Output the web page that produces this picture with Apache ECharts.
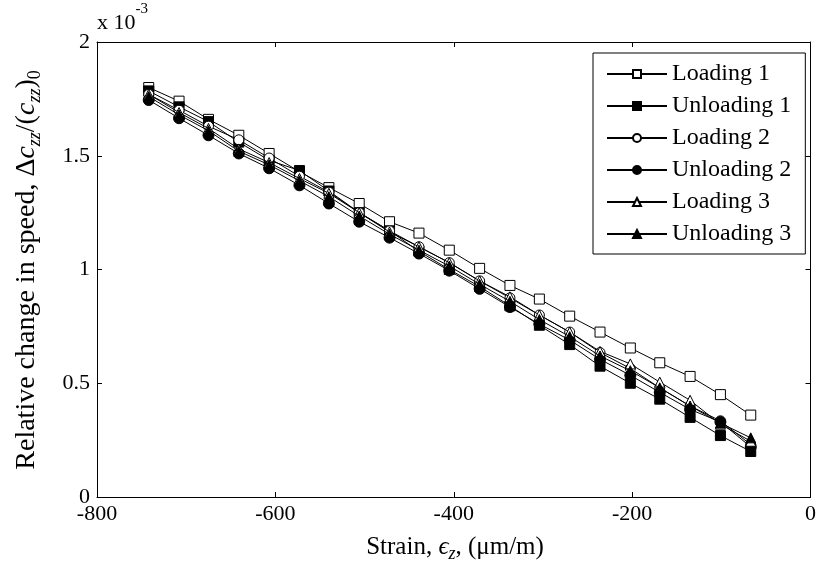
<!DOCTYPE html>
<html>
<head>
<meta charset="utf-8">
<script src="https://cdn.jsdelivr.net/npm/echarts@6/dist/echarts.min.js"></script>
<style>html,body{margin:0;padding:0;background:#fff}#c{width:819px;height:564px}</style>
</head>
<body>
<div id="c"></div>
<script>
// Strain values (µm/m)
var strain = [-742, -708, -675, -641, -607, -573, -540, -506, -472, -439, -405, -371, -337, -304, -270, -236, -202, -169, -135, -101, -67];
// Relative change in speed, in units of 1e-3
var loading1   = [1.80, 1.74, 1.66, 1.59, 1.51, 1.43, 1.36, 1.29, 1.21, 1.16, 1.085, 1.005, 0.93, 0.87, 0.795, 0.725, 0.655, 0.59, 0.53, 0.45, 0.36];
var unloading1 = [1.785, 1.715, 1.65, 1.56, 1.48, 1.435, 1.345, 1.25, 1.17, 1.08, 1.00, 0.925, 0.84, 0.755, 0.67, 0.575, 0.50, 0.43, 0.35, 0.27, 0.20];
var loading2   = [1.77, 1.70, 1.63, 1.57, 1.49, 1.41, 1.34, 1.25, 1.17, 1.10, 1.03, 0.95, 0.875, 0.80, 0.725, 0.635, 0.565, 0.48, 0.40, 0.335, 0.23];
var unloading2 = [1.745, 1.665, 1.59, 1.51, 1.445, 1.37, 1.29, 1.21, 1.14, 1.07, 0.995, 0.915, 0.835, 0.76, 0.69, 0.605, 0.535, 0.46, 0.385, 0.33, 0.22];
var loading3   = [1.77, 1.69, 1.62, 1.53, 1.47, 1.40, 1.335, 1.25, 1.165, 1.10, 1.03, 0.95, 0.88, 0.80, 0.725, 0.64, 0.585, 0.505, 0.425, 0.32, 0.245];
var unloading3 = [1.76, 1.68, 1.61, 1.52, 1.46, 1.39, 1.32, 1.235, 1.155, 1.085, 1.015, 0.935, 0.86, 0.78, 0.705, 0.62, 0.555, 0.48, 0.40, 0.325, 0.26];
var seriesNames = ['Loading 1', 'Unloading 1', 'Loading 2', 'Unloading 2', 'Loading 3', 'Unloading 3'];
var xTicks = [-800, -600, -400, -200, 0];
var yTicks = [0, 0.5, 1, 1.5, 2];

var FONT = '"Liberation Serif", "Times New Roman", serif';
function pairs(ys){ return strain.map(function(x,i){ return [x, ys[i]]; }); }

var styles = [
  {data: loading1,   symbol: 'rect',     size: 10, fill: '#fff'},
  {data: unloading1, symbol: 'rect',     size: 10, fill: '#000'},
  {data: loading2,   symbol: 'circle',   size: 10, fill: '#fff'},
  {data: unloading2, symbol: 'circle',   size: 11, fill: '#000'},
  {data: loading3,   symbol: 'triangle', size: 10, fill: '#fff'},
  {data: unloading3, symbol: 'triangle', size: 10, fill: '#000'}
];

var series = styles.map(function(s, k){
  return {
    name: seriesNames[k], type: 'line', data: pairs(s.data),
    xAxisIndex: 0, yAxisIndex: 0,
    symbol: s.symbol, symbolSize: s.size, showSymbol: true,
    lineStyle: {color: '#000', width: 1},
    itemStyle: {color: s.fill, borderColor: '#000', borderWidth: 1},
    emphasis: {disabled: true}, animation: false, z: 2 + k
  };
});

var axisCommon = {
  type: 'value', splitLine: {show: false},
  axisLine: {show: true, onZero: false, lineStyle: {color: '#000', width: 1}},
  axisTick: {show: true, inside: true, length: 5, lineStyle: {color: '#000'}}
};

var chart = echarts.init(document.getElementById('c'));
chart.setOption({
  backgroundColor: '#fff',
  animation: false,
  grid: {left: 97, top: 42, width: 714, height: 455},
  xAxis: [
    Object.assign({}, axisCommon, {position: 'bottom', min: xTicks[0], max: xTicks[xTicks.length-1], interval: 200,
      axisLabel: {color: '#000', fontFamily: FONT, fontSize: 22, margin: 6}}),
    Object.assign({}, axisCommon, {position: 'top', min: xTicks[0], max: xTicks[xTicks.length-1], interval: 200,
      axisLabel: {show: false}})
  ],
  yAxis: [
    Object.assign({}, axisCommon, {position: 'left', min: yTicks[0], max: yTicks[yTicks.length-1], interval: 0.5,
      axisLabel: {color: '#000', fontFamily: FONT, fontSize: 22, margin: 7}}),
    Object.assign({}, axisCommon, {position: 'right', min: yTicks[0], max: yTicks[yTicks.length-1], interval: 0.5,
      axisLabel: {show: false}})
  ],
  legend: {
    orient: 'vertical', left: 593, top: 53,
    data: seriesNames,
    itemWidth: 60, itemHeight: 10, itemGap: 8,
    padding: [9, 14, 8, 13],
    backgroundColor: '#fff', borderColor: '#000', borderWidth: 1, borderRadius: 0,
    textStyle: {color: '#000', fontFamily: FONT, fontSize: 24, lineHeight: 24},
    inactiveColor: '#000'
  },
  graphic: [
    {type: 'text', left: 97, top: 2, z: 100,
      style: {text: '{n|x 10}{s|-3}', rich: {
        n: {fontFamily: FONT, fontSize: 22, fill: '#000', verticalAlign: 'bottom', lineHeight: 32},
        s: {fontFamily: FONT, fontSize: 15, fill: '#000', verticalAlign: 'top', lineHeight: 32, padding: [0,0,14,0]}
      }}},
    {type: 'text', x: 455, y: 547, z: 100,
      style: {text: '{n|Strain, }{i|ϵ}{s|z}{n|, (μm/m)}', align: 'center', verticalAlign: 'middle', rich: {
        n: {fontFamily: FONT, fontSize: 25, fill: '#000'},
        i: {fontFamily: FONT, fontSize: 25, fill: '#000', fontStyle: 'italic'},
        s: {fontFamily: FONT, fontSize: 18, fill: '#000', fontStyle: 'italic', padding: [15,0,0,0]}
      }}},
    {type: 'text', x: 27, y: 270, rotation: Math.PI/2, z: 100,
      style: {text: '{n|Relative change in speed, Δ}{i|c}{s|zz}{n|/(}{i|c}{s|zz}{n|)}{t|0}', align: 'center', verticalAlign: 'middle', rich: {
        n: {fontFamily: FONT, fontSize: 28, fill: '#000'},
        i: {fontFamily: FONT, fontSize: 28, fill: '#000', fontStyle: 'italic'},
        s: {fontFamily: FONT, fontSize: 18, fill: '#000', fontStyle: 'italic', padding: [16,0,0,0]},
        t: {fontFamily: FONT, fontSize: 18, fill: '#000', padding: [16,0,0,0]}
      }}}
  ],
  series: series
});
</script>
</body>
</html>
